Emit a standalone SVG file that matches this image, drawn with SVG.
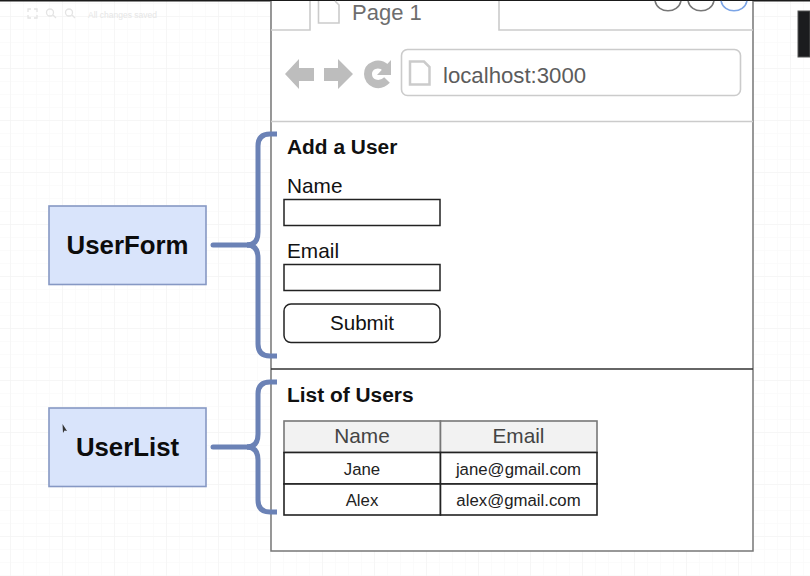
<svg xmlns="http://www.w3.org/2000/svg" width="810" height="576" viewBox="0 0 810 576">
<defs>
<pattern id="grid" width="13" height="13" patternUnits="userSpaceOnUse" x="-3" y="3">
<path d="M13 0H0V13" fill="none" stroke="#f7f7f7" stroke-width="1"/>
</pattern>
<pattern id="grid2" width="52" height="52" patternUnits="userSpaceOnUse" x="10" y="16">
<path d="M52 0H0V52" fill="none" stroke="#f1f1f1" stroke-width="1"/>
</pattern>
</defs>
<style>
text{font-family:"Liberation Sans",Arial,sans-serif;fill:#111}
.box{fill:#d9e4fb;stroke:#8698c4;stroke-width:1.6}
.title{font-size:25.8px;font-weight:bold;text-anchor:middle;fill:#0c0c0c}
.brace{fill:none;stroke:#6b82b6;stroke-width:5;stroke-linejoin:round}
.h{font-size:20.9px;font-weight:bold}
.l{font-size:20.8px}
.field{fill:#fff;stroke:#222;stroke-width:1.5}
.cell{fill:#fff;stroke:#222;stroke-width:1.6}
.hd{fill:#f2f2f2;stroke:#777;stroke-width:1.6}
.th{font-size:20.8px;text-anchor:middle;fill:#444}
.td{font-size:16.8px;text-anchor:middle;fill:#222}
.gl{fill:#bdbdbd}
.ls{fill:none;stroke:#cbcbcb;stroke-width:1.6}
.dark{fill:none;stroke:#777;stroke-width:1.5}
.tb{fill:none;stroke:#e4e4e4;stroke-width:1.3}
</style>
<rect width="810" height="576" fill="#fff"/>
<rect width="810" height="576" fill="url(#grid)"/>
<rect width="810" height="576" fill="url(#grid2)"/>
<rect x="0" y="0" width="810" height="1.500" fill="#1a1a1a"/>
<g id="toolbar">
<path class="tb" d="M28 12V9H31M34 9H37V12M37 15V18H34M31 18H28V15"/>
<circle class="tb" cx="50" cy="12.500" r="3.500"/><path class="tb" d="M53 15L56 18"/>
<circle class="tb" cx="69" cy="12.500" r="3.500"/><path class="tb" d="M72 15L75 18"/>
<text x="88" y="18" font-size="8.500" style="fill:#e6e6e6">All changes saved</text>
</g>
<rect x="798" y="11" width="12" height="46" fill="#1b1c1e" stroke="#555" stroke-width="1"/>
<g id="browser">
<rect x="271" y="1" width="482" height="550" fill="#fff"/>
<path d="M271 1V551H753V1" fill="none" stroke="#777" stroke-width="1.500"/>
<path class="ls" d="M271 30H310V1M499 1V30H753"/>
<path class="ls" d="M271 121.500H753"/>
<path d="M271 369H753" stroke="#333" stroke-width="1.500"/>
<path class="ls" d="M318.500 1V23H339V5L335 1"/>
<text x="352" y="20" font-size="22" style="fill:#6d6d6d">Page 1</text>
<path d="M655 1C658 14 678 14 681 1" class="dark"/>
<path d="M688 1C691 14 711 14 714 1" class="dark"/>
<path d="M721 1C724 14 744 14 747 1" fill="none" stroke="#7ba4e6" stroke-width="1.500"/>
<path class="gl" d="M285 74L299 59V68H314V81H299V89Z"/>
<path class="gl" d="M353 74L338 59V68H324V81H338V89Z"/>
<path d="M386 68C378 61 368 66 368 74C368 83 379 88 387 80" fill="none" stroke="#bdbdbd" stroke-width="8"/>
<path class="gl" d="M391 60V75H377Z"/>
<rect x="401.500" y="49.500" width="339" height="46" rx="6" class="ls"/>
<path class="ls" style="stroke-width:2.500" d="M410 84.500V61.500H424L429.500 67V84.500Z"/>
<text x="443" y="83" font-size="22.200" style="fill:#5c5c5c">localhost:3000</text>
</g>
<g id="add-user-form">
<text class="h" x="287" y="154">Add a User</text>
<text class="l" x="287" y="193">Name</text>
<rect class="field" x="284" y="199.500" width="156" height="26"/>
<text class="l" x="287" y="258">Email</text>
<rect class="field" x="284" y="264.500" width="156" height="26"/>
<rect class="field" x="284" y="304" width="156" height="38.500" rx="7"/>
<text x="362" y="330" font-size="20.600" text-anchor="middle">Submit</text>
</g>
<g id="users-table">
<text class="h" x="287" y="402">List of Users</text>
<rect class="hd" x="284" y="421" width="156.500" height="31.500"/>
<rect class="hd" x="440.500" y="421" width="156.500" height="31.500"/>
<rect class="cell" x="284" y="452.500" width="156.500" height="31.500"/>
<rect class="cell" x="440.500" y="452.500" width="156.500" height="31.500"/>
<rect class="cell" x="284" y="484" width="156.500" height="31"/>
<rect class="cell" x="440.500" y="484" width="156.500" height="31"/>
<text class="th" x="362" y="443">Name</text>
<text class="th" x="518.500" y="443">Email</text>
<text class="td" x="362" y="474.500">Jane</text>
<text class="td" x="518.500" y="474.500">jane@gmail.com</text>
<text class="td" x="362" y="505.500">Alex</text>
<text class="td" x="518.500" y="505.500">alex@gmail.com</text>
</g>
<g id="connectors">
<path class="brace" d="M277 134H270C262 134 258 138 258 146V232C258 240 255 245 247 245"/>
<path class="brace" d="M277 356H270C262 356 258 352 258 344V258C258 250 255 245 247 245"/>
<path class="brace" stroke-linecap="round" d="M213 245H248"/>
<path class="brace" d="M277 382H270C262 382 258 386 258 394V434C258 442 255 447 247 447"/>
<path class="brace" d="M277 512H270C262 512 258 508 258 500V460C258 452 255 447 247 447"/>
<path class="brace" stroke-linecap="round" d="M213 447H248"/>
</g>
<g id="UserForm">
<rect class="box" x="49" y="206" width="157" height="78.500"/>
<text class="title" x="127.500" y="254">UserForm</text>
</g>
<g id="UserList">
<rect class="box" x="49" y="408" width="157" height="78.500"/>
<text class="title" x="127.500" y="456">UserList</text>
<path d="M62.500 424L67 431L64.500 430.500L63 433Z" fill="#333"/>
</g>
</svg>
